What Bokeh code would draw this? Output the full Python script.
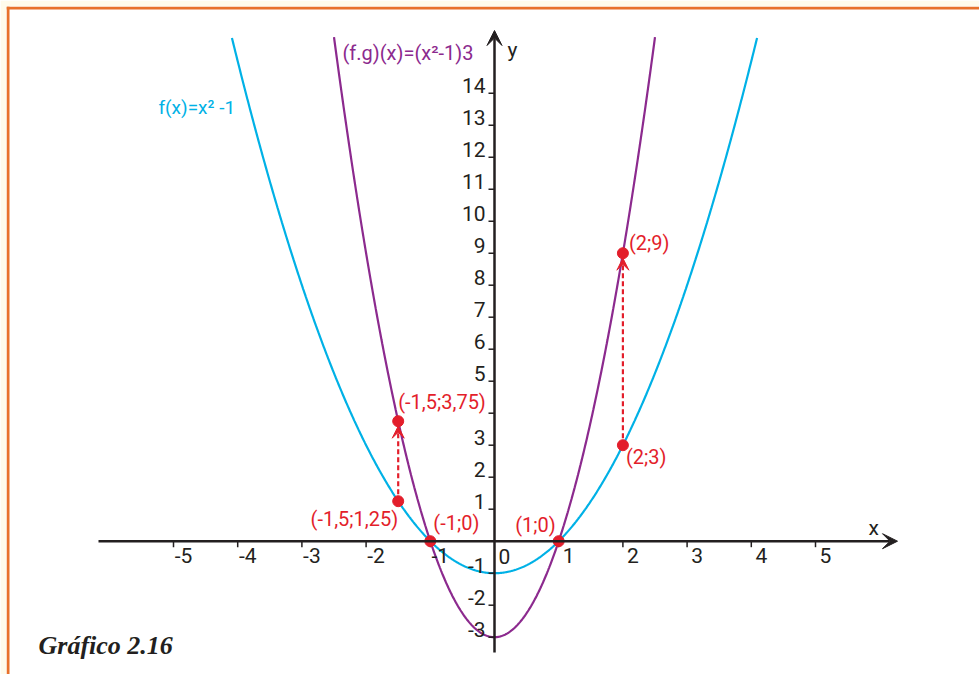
import numpy as np
from bokeh.plotting import figure
from bokeh.models import ColumnDataSource, Arrow, VeeHead, Label, Span
from bokeh.core.properties import value
from bokeh.embed import file_html
from bokeh.resources import INLINE

# ---------------- data ----------------
x_ticks = [-5, -4, -3, -2, -1, 1, 2, 3, 4, 5]
y_ticks = [-3, -2, -1, 1, 2, 3, 4, 5, 6, 7, 8, 9, 10, 11, 12, 13, 14]
# the "4" label is covered by the point label in the original
y_tick_labels = ["-3", "-2", "-1", "1", "2", "3", "", "5", "6", "7", "8", "9", "10", "11", "12", "13", "14"]
f_label = "f(x)=x\u00b2 -1"
fg_label = "(f.g)(x)=(x\u00b2-1)3"
f_a, f_b, f_c = 1.0, 0.0, -1.0      # f(x) = x^2 - 1
g_factor = 3.0                       # (f.g)(x) = (x^2 - 1) * 3
point_x = [-1.5, -1.5, -1.0, 1.0, 2.0, 2.0]
point_y = [1.25, 3.75, 0.0, 0.0, 3.0, 9.0]
point_labels = ["(-1,5;1,25)", "(-1,5;3,75)", "(-1;0)", "(1;0)", "(2;3)", "(2;9)"]
arrow_x = [-1.5, 2.0]
arrow_from = [1.25, 3.0]
arrow_to = [3.75, 9.0]

# ---------------- styles ----------------
CYAN = "#00b1e6"
PURPLE = "#8c2a8e"
RED = "#e31e2b"
AXIS = "#231f20"
ORANGE = "#e8712b"
CREAM = "#fffbeb"
FONT = value("Roboto")

# pixel scale of the reference: 64.2 px per x unit, 32 px per y unit
XPX, YPX = 64.2, 32.0
W, H = 979, 674
BT, BL = 6, 6
x0_px, y0_px = 494.0, 540.7   # page position of origin
fx0, fx1 = BL, W
fy0, fy1 = BT, H

def px_x(px):
    return (px - x0_px) / XPX

def px_y(py):
    return (y0_px - py) / YPX

p = figure(width=W, height=H, output_backend="svg", toolbar_location=None,
           x_axis_type=None, y_axis_type=None, title=None,
           x_range=(px_x(fx0), px_x(fx1)), y_range=(px_y(fy1), px_y(fy0)),
           min_border_left=BL, min_border_top=BT, min_border_right=0, min_border_bottom=0,
           background_fill_color="white", border_fill_color=CREAM)
p.outline_line_color = None
p.xgrid.visible = False
p.ygrid.visible = False

# orange frame lines (top and left)
p.add_layout(Span(location=px_y(7.5), dimension="width", line_color=ORANGE, line_width=3))
p.add_layout(Span(location=px_x(7.5), dimension="height", line_color=ORANGE, line_width=3))

YTOP = 15.8
# curves
xs = np.linspace(-4.5, 4.5, 901)
fy = f_a * xs**2 + f_b * xs + f_c
m = fy <= YTOP
p.line(xs[m], fy[m], line_color=CYAN, line_width=2.2)
gy = g_factor * fy
m2 = gy <= YTOP
p.line(xs[m2], gy[m2], line_color=PURPLE, line_width=2.2)

# axes
XTIP, YTIP = px_x(897), px_y(30)
p.add_layout(Arrow(end=VeeHead(size=15, fill_color=AXIS, line_color=AXIS, line_width=1),
                   x_start=px_x(98), y_start=0, x_end=XTIP, y_end=0,
                   line_color=AXIS, line_width=2.5))
p.add_layout(Arrow(end=VeeHead(size=15, fill_color=AXIS, line_color=AXIS, line_width=1),
                   x_start=0, y_start=px_y(652), x_end=0, y_end=YTIP,
                   line_color=AXIS, line_width=2.5))

# ticks
tk = 6
p.segment(x0=x_ticks, y0=[0] * len(x_ticks), x1=x_ticks, y1=[-tk / YPX] * len(x_ticks),
          line_color=AXIS, line_width=1.5)
p.segment(x0=[0] * len(y_ticks), y0=y_ticks, x1=[-tk / XPX] * len(y_ticks), y1=y_ticks,
          line_color=AXIS, line_width=1.5)

# tick labels
TS = value("21px")
p.text(x=x_ticks, y=[0] * len(x_ticks), text=[str(t) for t in x_ticks],
       text_align="center", text_baseline="alphabetic", x_offset=10, y_offset=14,
       text_font=FONT, text_font_size=TS, text_color=AXIS)
p.text(x=[0] * len(y_ticks), y=y_ticks, text=y_tick_labels,
       text_align="right", text_baseline="alphabetic", x_offset=-9, y_offset=-8,
       text_font=FONT, text_font_size=TS, text_color=AXIS)
p.text(x=[0], y=[0], text=["0"], text_align="left", text_baseline="alphabetic",
       x_offset=4, y_offset=15, text_font=FONT, text_font_size=TS, text_color=AXIS)
# axis names
p.text(x=[XTIP], y=[0], text=["x"], text_align="left", text_baseline="alphabetic",
       x_offset=-29, y_offset=-13, text_font=FONT, text_font_size=value("21px"), text_color=AXIS)
p.text(x=[0], y=[YTIP], text=["y"], text_align="left", text_baseline="alphabetic",
       x_offset=13, y_offset=19, text_font=FONT, text_font_size=value("21px"), text_color=AXIS)

# dashed arrows between points
for ax, a0, a1 in zip(arrow_x, arrow_from, arrow_to):
    p.add_layout(Arrow(end=VeeHead(size=12, fill_color=RED, line_color=RED, line_width=1),
                       x_start=ax, y_start=a0 + 7 / YPX, x_end=ax, y_end=a1 - 5 / YPX,
                       line_color=RED, line_width=2.2, line_dash="5 3"))

# points
p.scatter(point_x, point_y, size=11, fill_color=RED, line_color=RED)

lab_align = ["right", "left", "left", "right", "left", "left"]
lab_dx = [0, 0, 3, -3, 3, 6]
lab_dy = [18, -19, -18, -16, 12, -10]
src = ColumnDataSource(dict(x=point_x, y=point_y, t=point_labels, a=lab_align, dx=lab_dx, dy=lab_dy))
p.text(x="x", y="y", text="t", source=src, text_align="a", text_baseline="alphabetic",
       x_offset="dx", y_offset="dy", text_font=FONT, text_font_size=value("20px"),
       text_color=RED)

# curve labels
p.add_layout(Label(x=px_x(342), y=px_y(52), text=fg_label, text_baseline="alphabetic",
                   text_color=PURPLE, text_font="Roboto", text_font_size="20px"))
p.add_layout(Label(x=px_x(158), y=px_y(107), text=f_label, text_baseline="alphabetic",
                   text_color=CYAN, text_font="Roboto", text_font_size="19px"))

# caption
p.add_layout(Label(x=38 - BL, y=15, x_units="screen", y_units="screen", text="Gráfico 2.16",
                   text_font="Liberation Serif", text_font_style="bold italic",
                   text_font_size="26px", text_color=AXIS))

open("out.html", "w").write(file_html(p, INLINE))
